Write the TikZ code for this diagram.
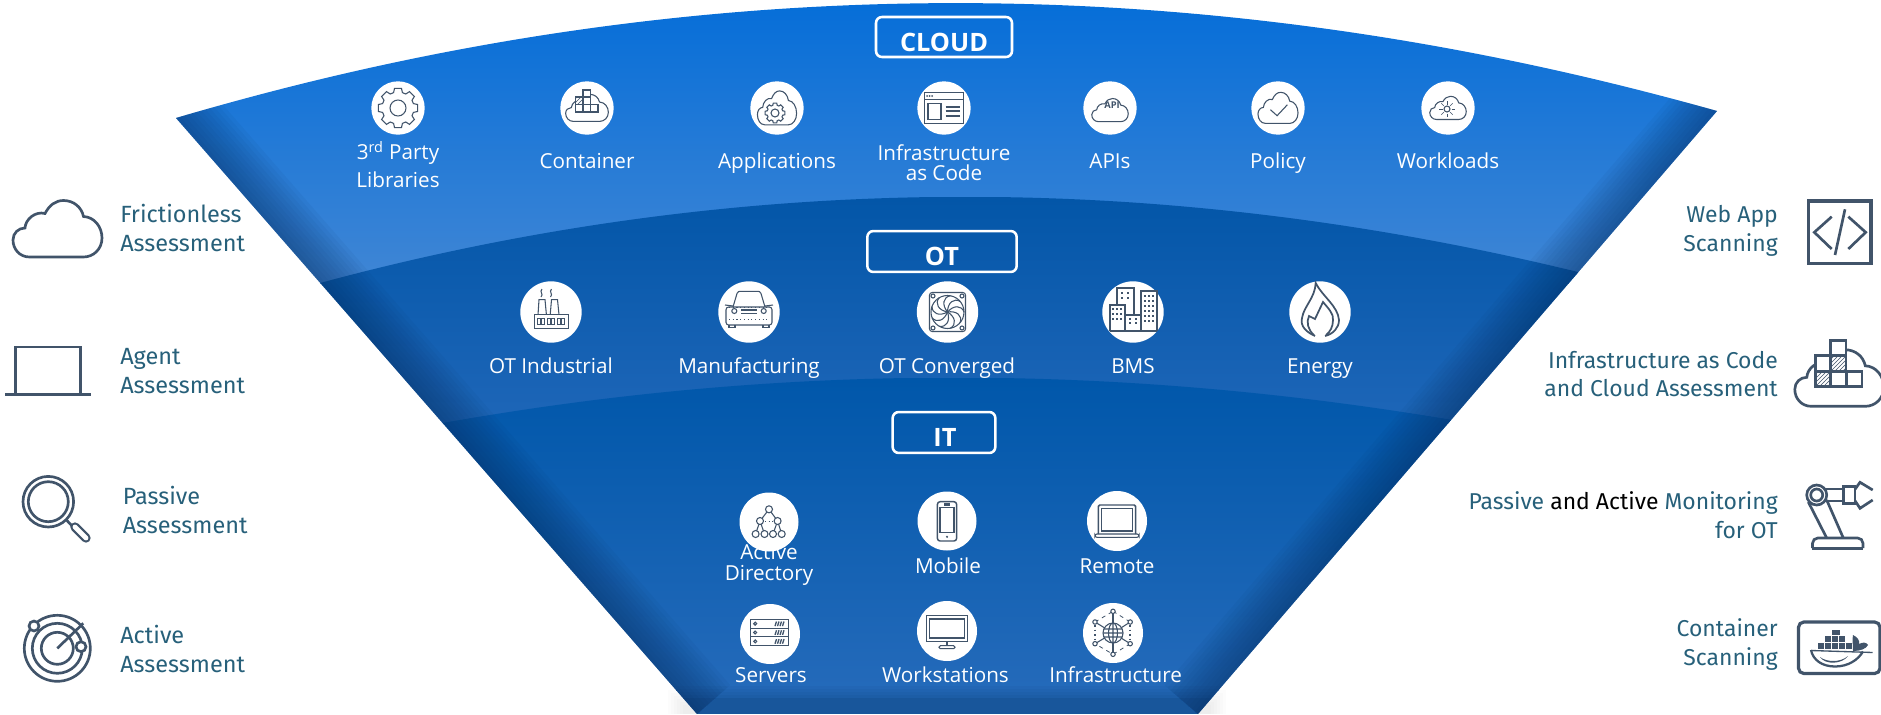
\documentclass[tikz,border=0pt]{standalone}
\usepackage{fontspec}
\setmainfont{Open Sans}
\newfontfamily\sidefont{Fira Sans}
\usetikzlibrary{patterns}

\definecolor{iconink}{HTML}{41546A}
\definecolor{sideteal}{HTML}{27607A}
\definecolor{edgedark}{HTML}{052C5C}

\newcommand{\cloudoutline}{(-28,28) .. controls (-38,28) and (-44.5,20) .. (-44.5,11) .. controls (-44.5,4) and (-39,-1) .. (-32.5,-1) .. controls (-32,-10) and (-22,-18) .. (-12.5,-15.5) .. controls (-8,-24) and (-2,-28.5) .. (6,-28.5) .. controls (16,-28.5) and (24,-22) .. (26,-12.5) .. controls (37,-12) and (44.5,-2) .. (44.5,9) .. controls (44.5,20) and (36,28) .. (26,28) -- cycle}
\newcommand{\funneloutline}{(176,118) .. controls (690,-34) and (1203,-34) .. (1717,111) -- (1198,714) -- (697,714) -- cycle}

\tikzset{
	badge/.style={circle,fill=white,inner sep=0pt,minimum size=#1*0.75pt},
	inkthin/.style={draw=iconink,line width=0.8pt},
	inkbold/.style={draw=iconink,line width=1.6pt},
	inkside/.style={draw=iconink,line width=2pt},
	lbl/.style={text=white,align=center,inner sep=0pt,font=\fontsize{15.5}{15}\selectfont},
	lblone/.style={lbl,text height=13pt,text depth=2.5pt},
	tagbox/.style={draw=white,line width=1.9pt,rounded corners=4.5pt,inner sep=0pt},
	tagtext/.style={text=white,inner sep=0pt,font=\fontsize{19}{20}\selectfont\bfseries},
	sideleft/.style={text=sideteal,align=left,anchor=west,inner sep=0pt,font=\sidefont\fontsize{17.6}{21.6}\selectfont},
	sideright/.style={text=sideteal,align=right,anchor=east,inner sep=0pt,font=\sidefont\fontsize{17.2}{21.6}\selectfont},
	gearglyph/.pic={
		\draw[inkthin,fill=white] (-16:16) \foreach \a in {0,45,...,315} { -- (\a-16:16) -- (\a-10:20) -- (\a+10:20) -- (\a+16:16) } -- cycle;
		\draw[inkthin] (0,0) circle (8);
	},
	stackglyph/.pic={
		\draw[inkside,fill=white] \cloudoutline;
		\foreach \bx/\by in {-8.7/-38,-23.7/-22.5,-8.7/-22.5,-23.7/-7,-8.7/-7,7.3/-7} {
			\draw[inkside,fill=white] (\bx,\by) rectangle ++(15.5,15.5);
		}
		\fill[pattern=north east lines,pattern color=iconink] (-8.7,-22.5) rectangle ++(15.5,15.5);
		\fill[pattern=north east lines,pattern color=iconink] (-23.7,-7) rectangle ++(15.5,15.5);
	},
	stacksmall/.pic={
		\draw[inkthin,fill=white,scale=.48] \cloudoutline;
		\foreach \bx/\by in {-4/-18,-11.5/-11,-4/-11,-11.5/-3.5,-4/-3.5,3.5/-3.5} {
			\draw[inkthin,fill=white] (\bx,\by) rectangle ++(7.5,7.5);
		}
		\fill[pattern=north east lines,pattern color=iconink] (-11.5,-11) rectangle ++(7.5,7.5);
	},
	appsglyph/.pic={
		\draw[inkthin,xscale=.44,yscale=.6] \cloudoutline;
		\pic[scale=.5] at (-2,5) {gearglyph};
	},
	windowglyph/.pic={
		\draw[inkbold,line width=1.1pt] (-19.5,-15.3) rectangle (19.5,15.3);
		\draw[inkthin] (-19.5,-8.7) -- (19.5,-8.7);
		\foreach \dx in {-17,-14.5,-12} {\fill[iconink] (\dx,-12) circle (1);}
		\draw[inkthin] (-16,-4.7) rectangle (-3,11.3);
		\foreach \ly in {-1.3,3.3,7.7} {\draw[inkbold] (1.5,\ly) -- (16,\ly);}
	},
	apiglyph/.pic={
		\draw[inkthin,scale=.41,yshift=-4] \cloudoutline;
		\node[inner sep=0pt,text=iconink,font=\fontsize{7}{8}\selectfont\bfseries] (apitext) at (2,-2.5) {API};
	},
	policyglyph/.pic={
		\draw[inkthin,xscale=.45,yscale=.55] \cloudoutline;
		\draw[inkthin] (-7.6,1.7) -- (-.9,7.7) -- (9.4,-3.3);
	},
	workglyph/.pic={
		\draw[inkthin,scale=.41] \cloudoutline;
		\draw[inkthin] (-1,1) circle (3);
		\foreach \a in {0,45,...,315} {\draw[draw=iconink,line width=.5pt] ([shift={(-1,1)}]\a:4.5) -- ([shift={(-1,1)}]\a:8);}
	},
	factoryglyph/.pic={
		\draw[inkthin] (-16.5,2.7) rectangle (17.2,16.7);
		\draw[inkthin] (-13,2.7) -- (-12,-12.3) -- (-6,-12.3) -- (-4.6,2.7);
		\draw[inkthin] (-.8,2.7) -- (.5,-12.3) -- (6.5,-12.3) -- (8,2.7);
		\foreach \sx in {-9,0.5} {\draw[inkthin] (\sx,-23) .. controls (\sx-3,-20) and (\sx+2,-18) .. (\sx-1,-15);}
		\foreach \wx in {-14,-4,6} {\draw[draw=iconink,line width=.5pt] (\wx,6) rectangle ++(3.5,6) (\wx+4,6) rectangle ++(3.5,6);}
	},
	carglyph/.pic={
		\draw[inkthin] (-16,-5) -- (-12,-18.5) .. controls (-11,-20.5) and (-10,-20.7) .. (-9,-20.7) -- (9,-20.7) .. controls (10,-20.7) and (11,-20.5) .. (12,-18.5) -- (16,-5);
		\draw[inkthin,rounded corners=2pt] (-23,-5) rectangle (23,13);
		\draw[inkthin] (-20,13) -- (-20,15.7) -- (-14,15.7) -- (-14,13) (20,13) -- (20,15.7) -- (14,15.7) -- (14,13);
		\draw[inkthin] (-16,-6) -- (-24,-7) (16,-6) -- (24,-7);
		\draw[inkthin] (-14.7,-1) circle (2.5) (14.7,-1) circle (2.5);
		\draw[inkbold,line width=1.1pt] (-8,-2) -- (8,-2) (-8,1.5) -- (8,1.5);
		\draw[draw=iconink,line width=.8pt,dotted] (-20,-6.5+2) -- (20,-6.5+2) (-20,7.3) -- (20,7.3);
	},
	fanglyph/.pic={
		\draw[inkthin,rounded corners=2pt] (-18,-19.5) rectangle (18,19.5);
		\draw[inkthin] (0,0) circle (16.5);
		\foreach \cx/\cy in {-14.5/-16,14.5/-16,-14.5/16,14.5/16} {\draw[inkthin] (\cx,\cy) circle (2);}
		\foreach \a in {0,40,...,320} {\draw[inkthin,rotate=\a] (0,0) .. controls (6,-7) and (14,-7) .. (16.5,0);}
	},
	cityglyph/.pic={
		\draw[inkbold,fill=white] (-16,-7.3) -- (-16,-24) -- (1.3,-24) -- (1.3,2.7);
		\draw[inkbold,fill=white] (8,19.3) -- (8,-20.7) -- (24,-20.7) -- (24,19.3);
		\draw[inkbold,fill=white] (-23.3,19.3) -- (-23.3,-7.3) -- (-7.7,-7.3) -- (-7.7,19.3);
		\draw[inkbold,fill=white] (-7.7,2.7) rectangle (8,19.3);
		\draw[inkbold] (-23.3,19.3) -- (24,19.3);
		\foreach \wx/\wy in {-11/-19,-5/-19,-11/-14,-5/-14,-20/-3,-16/-3,-12/-3,-20/2,-16/2,-12/2,-20/7,-16/7,-12/7,-3/7,3/7,-3/11,3/11,11.5/-16,15.5/-16,19.5/-16,11.5/-11,15.5/-11,19.5/-11,11.5/-6,15.5/-6,19.5/-6,11.5/-1,15.5/-1,19.5/-1,11.5/4,15.5/4,19.5/4,11.5/9,15.5/9,19.5/9} {
			\fill[iconink] (\wx-1,\wy-1) rectangle ++(2,2);
		}
	},
	flameglyph/.pic={
		\draw[inkbold,line width=1.3pt] (-5,24) .. controls (-14,20) and (-20,14) .. (-18,6) .. controls (-16,-6) and (-5,-14) .. (-4.3,-29) .. controls (2,-16) and (18,-6) .. (19,8) .. controls (19,16) and (13,22) .. (5,24);
		\draw[inkbold,line width=1.3pt] (-6,23) .. controls (-12,18) and (-14,10) .. (-11,4) -- (-5,7) -- (3,-10) .. controls (8,-4) and (14,2) .. (13,8) .. controls (13,15) and (10,20) .. (6,23);
	},
	treeglyph/.pic={
		\draw[inkthin] (0,-12.7) -- (-9,-1) -- (-13.4,12) (-9,-1) -- (-4.5,12) (0,-12.7) -- (8.6,-1) -- (4,12) (8.6,-1) -- (12.7,12);
		\foreach \tx/\ty in {0/-12.7,-9/-1,8.6/-1,-13.4/12,-4.5/12,4/12,12.7/12} {\draw[inkthin,fill=white] (\tx,\ty) circle (3.5);}
		\draw[draw=iconink,line width=.7pt,dotted] (-4,-1) -- (4,-1);
	},
	phoneglyph/.pic={
		\draw[inkbold,line width=1.1pt,rounded corners=2pt] (-9.6,-19.3) rectangle (9.6,20);
		\draw[inkthin] (-7,-13.7) rectangle (7,11.7);
		\draw[inkbold] (-3,-16.5) -- (3,-16.5);
		\fill[iconink] (0,15.8) circle (1.2);
	},
	laptopglyph/.pic={
		\draw[inkbold,line width=1.1pt,rounded corners=1pt] (-18.6,13) -- (-18.6,-16) -- (18.6,-16) -- (18.6,13);
		\draw[inkthin] (-15.2,-12.7) rectangle (15.2,10);
		\draw[inkthin,rounded corners=1.5pt] (-22,13) rectangle (22,16.3);
	},
	serverglyph/.pic={
		\foreach \sy in {-14.7,-5.9,2.9} {
			\draw[inkthin] (-19.7,\sy) rectangle (18.6,\sy+8.8);
			\draw[inkthin] (-14.8,\sy+4.4) circle (1.5);
			\foreach \hx in {6,8.5,11,13.5} {\draw[draw=iconink,line width=1pt] (\hx-1,\sy+6.8) -- (\hx+.5,\sy+2.2);}
		}
	},
	screenglyph/.pic={
		\draw[inkbold,line width=1.1pt] (-20.7,-15.3) rectangle (20.7,10.3);
		\draw[inkthin] (-17.2,-12) rectangle (17.2,7);
		\draw[inkthin] (0,10.3) -- (0,14.7);
		\draw[inkthin,rounded corners=1pt] (-8,14.7) rectangle (8,17.7);
	},
	netglyph/.pic={
		\draw[draw=iconink,line width=.6pt,dashed] (0,-21.7) -- (17.2,-11) (17.2,10.7) -- (0,21.3) -- (-18,10.7) (-18,-11) -- (0,-21.7);
		\draw[draw=iconink,line width=1.4pt,dotted] (17.2,-8) -- (17.2,8) (-18,-8) -- (-18,8);
		\foreach \nx/\ny in {0/-21.7,17.2/-11,17.2/10.7,0/21.3,-18/10.7,-18/-11} {
			\draw[inkthin] (0,0) -- (\nx,\ny);
			\draw[inkthin,fill=white] (\nx,\ny) circle (2.2);
		}
		\draw[inkthin,fill=white] (0,0) circle (10);
		\draw[inkthin] (0,0) ellipse (4.5 and 10) (-10,0) -- (10,0) (-9,-4) -- (9,-4) (-9,4) -- (9,4) (0,-10) -- (0,10);
	},
}

\begin{document}
\begin{tikzpicture}[x=0.75pt,y=-0.75pt]
	\useasboundingbox (0,0) rectangle (1881,714);

	% soft ground shadow under the funnel
	\foreach \s in {0,3,...,15} {
		\fill[black,opacity=.012] (668+\s,690+\s) rectangle (1226-\s,714);
	}

	\begin{scope}
		\clip \funneloutline;
		\shade[top color={rgb,255:red,6;green,110;blue,216},bottom color={rgb,255:red,64;green,134;blue,213}] (0,3) rectangle (1881,283);
		\begin{scope}
			\clip (320,283) .. controls (739,170) and (1159,170) .. (1578,272) -- (1881,714) -- (0,714) -- cycle;
			\shade[top color={rgb,255:red,3;green,86;blue,168},bottom color={rgb,255:red,30;green,102;blue,184}] (0,197) rectangle (1881,423);
		\end{scope}
		\begin{scope}
			\clip (443,423) .. controls (780,363) and (1115,363) .. (1452,420) -- (1881,714) -- (0,714) -- cycle;
			\shade[top color={rgb,255:red,0;green,87;blue,170},bottom color={rgb,255:red,36;green,106;blue,186}] (0,378) rectangle (1881,690);
			\fill[color={rgb,255:red,36;green,106;blue,186}] (0,690) rectangle (1881,714);
		\end{scope}
		% dark rim along both sides
		\foreach \w in {8,16,...,88} {
			\draw[edgedark,line width=\w*0.75pt,opacity=.05] (176,118) -- (697,714) (1717,111) -- (1198,714);
		}
		% bottom strip
		\foreach \s in {0,3,...,9} {
			\fill[edgedark,opacity=.05] (0,686+\s) rectangle (1881,714);
		}
		\fill[edgedark,opacity=.14] (0,698) rectangle (1881,714);
	\end{scope}

	% tag boxes
	\node[tagbox,minimum width=102pt,minimum height=30pt] (cloudtag) at (944,37) {};
	\node[tagbox,minimum width=112pt,minimum height=30.7pt] (ottag) at (942,251.5) {};
	\node[tagbox,minimum width=77pt,minimum height=30.7pt] (ittag) at (944,432.5) {};
	\node[tagtext] (cloudtext) at (944,42) {CLOUD};
	\node[tagtext] (ottext) at (942,256) {OT};
	\node[tagtext] (ittext) at (945,437) {IT};

	% labels go first, the badge lies over the word Active
	\foreach \name/\px/\py/\words in {lcontainer/587/161/Container,lapps/777/161/Applications,lapis/1110/161/APIs,lpolicy/1278/161/Policy,lworkloads/1448/161/Workloads,lotind/551/366/OT Industrial,lmanuf/749/366/Manufacturing,lconv/947/366/OT Converged,lbms/1133/366/BMS,lenergy/1320/366/Energy,lmobile/948/566/Mobile,lremote/1117/566/Remote,lservers/771/675/Servers,lworkst/945.5/675/Workstations,linfra/1115.6/675/Infrastructure} {
		\node[lblone] (\name) at (\px,\py) {\words};
	}
	\node[lbl,font=\fontsize{15.5}{21}\selectfont] (llibs) at (398,165) {3\textsuperscript{rd} Party\\Libraries};
	\node[lbl] (liac) at (944,163) {Infrastructure\\as Code};
	\node[lbl,font=\fontsize{15.5}{15.75}\selectfont] (lad) at (769,565) {Active\\Directory};

	\foreach \name/\px/\py/\rad in {gear/398/108/53.4,container/587/108/53.4,apps/777/108/53.4,iac/944/108/53.4,api/1110/108/53.4,policy/1278/108/53.4,workloads/1448/108/53.4,otind/551/312/61.4,manuf/749/312/61.4,conv/947.5/312/61.4,bms/1133/312/61.4,energy/1320/312/61.4,ad/769/522/59,mobile/947/521/59,remote/1117/521/60,servers/770/634/60,workst/947/631/60,infra/1113/633/60} {
		\node[badge=\rad] (\name) at (\px,\py) {};
	}

	\pic at (gear) {gearglyph};
	\pic at (container) {stacksmall};
	\pic at (apps) {appsglyph};
	\pic at (iac) {windowglyph};
	\pic at (api) {apiglyph};
	\pic at (policy) {policyglyph};
	\pic at (workloads) {workglyph};
	\pic at (otind) {factoryglyph};
	\pic at (manuf) {carglyph};
	\pic at (conv) {fanglyph};
	\pic at (bms) {cityglyph};
	\pic at (energy) {flameglyph};
	\pic at (ad) {treeglyph};
	\pic at (mobile) {phoneglyph};
	\pic at (remote) {laptopglyph};
	\pic at (servers) {serverglyph};
	\pic at (workst) {screenglyph};
	\pic at (infra) {netglyph};

	% left column
	\node[sideleft] (frictionless) at (120,228) {Frictionless\\Assessment};
	\node[sideleft] (agent) at (120,371) {Agent\\Assessment};
	\node[sideleft] (passive) at (122.5,510) {Passive\\Assessment};
	\node[sideleft] (active) at (120,649) {Active\\Assessment};

	\draw[inkside] [shift={(57.5,229)}] \cloudoutline;
	\draw[inkside] (15.5,393) -- (15.5,347) -- (80.5,347) -- (80.5,393);
	\draw[draw=iconink,line width=2.2pt] (5,394.5) -- (90.5,394.5);
	\draw[inkside] (48.3,501.7) circle (25.3) (48.3,501.7) circle (20);
	\draw[inkside] (66,519.5) -- (73,527);
	\draw[draw=iconink,line width=7pt,line cap=round] (75,527) -- (86,538);
	\draw[draw=white,line width=3.6pt,line cap=round] (75,527) -- (86,538);
	\draw[inkside] (57.3,648.3) circle (33) (57.3,648.3) circle (25) (57.3,648.3) circle (16);
	\draw[inkside] (57.3,648.3) -- (83.3,623.3);
	\draw[inkside,fill=white] (34,626) circle (5) (81,646.7) circle (5);

	% right column
	\node[sideright] (webapp) at (1778,230.5) {Web App\\Scanning};
	\node[sideright] (iaccloud) at (1778,374) {Infrastructure as Code\\and Cloud Assessment};
	\node[sideright] (monitoring) at (1778,515) {Passive {\color{black}and Active} Monitoring\\for OT};
	\node[sideright] (scanning) at (1778,644.5) {Container\\Scanning};

	\draw[draw=iconink,line width=2.4pt] (1808.5,201) rectangle (1871,263.5);
	\draw[inkside] (1831.7,216.7) -- (1814.3,232.3) -- (1831.7,249);
	\draw[inkside] (1848.3,216.7) -- (1865.7,232.3) -- (1848.3,249);
	\draw[inkside] (1845,209.3) -- (1835,255);

	\pic at (1839.3,378.3) {stackglyph};

	\draw[inkside,rounded corners=4pt] (1812.5,548) -- (1812.5,538) -- (1863,538) -- (1863,548);
	\draw[draw=iconink,line width=2pt] (1812,548.3) -- (1863,548.3);
	\draw[inkside] (1808.3,502) -- (1826.7,538) (1826.7,500) -- (1843.3,538);
	\draw[inkside] (1825,489) -- (1843.5,489) (1825,501) -- (1843.5,501);
	\draw[inkside,fill=white] (1843.3,486.7) rectangle (1855,503.3);
	\draw[inkside,fill=white] (1816.7,495) circle (10) ;
	\draw[inkside] (1816.7,495) circle (6);
	\draw[inkside] (1855,489.3) -- (1860,482.3) -- (1872.7,490) (1855,500.7) -- (1860,508.3) -- (1872.7,500);

	\draw[draw=iconink,line width=2.4pt,rounded corners=4pt] (1798.5,622) rectangle (1880,673.5);
	\draw[draw=iconink,line width=1.7pt] (1811,650) .. controls (1813,660) and (1822,666.5) .. (1835,666.5) .. controls (1848,666.5) and (1858,660) .. (1863,651.5);
	\draw[draw=iconink,line width=1pt] (1811,650.5) -- (1872.7,652.5);
	\fill[iconink] (1853,651) .. controls (1853,644) and (1852,640) .. (1853,635) .. controls (1857,637) and (1860,640) .. (1859,644) .. controls (1863,642) and (1866,642) .. (1868,645) .. controls (1866,649) and (1860,651) .. (1853,651) -- cycle;
	\foreach \cx in {1818,1825,1832,1839,1846} {\fill[iconink] (\cx,643) rectangle ++(5.5,5.5);}
	\foreach \cx in {1825,1832,1839} {\fill[iconink] (\cx,636) rectangle ++(5.5,5.5);}
	\fill[iconink] (1832,629.5) rectangle ++(8,5.5);
	\fill[iconink] (1820,657) .. controls (1826,662) and (1840,663) .. (1848,656) .. controls (1842,664.5) and (1825,665) .. (1820,657) -- cycle;
\end{tikzpicture}
\end{document}
